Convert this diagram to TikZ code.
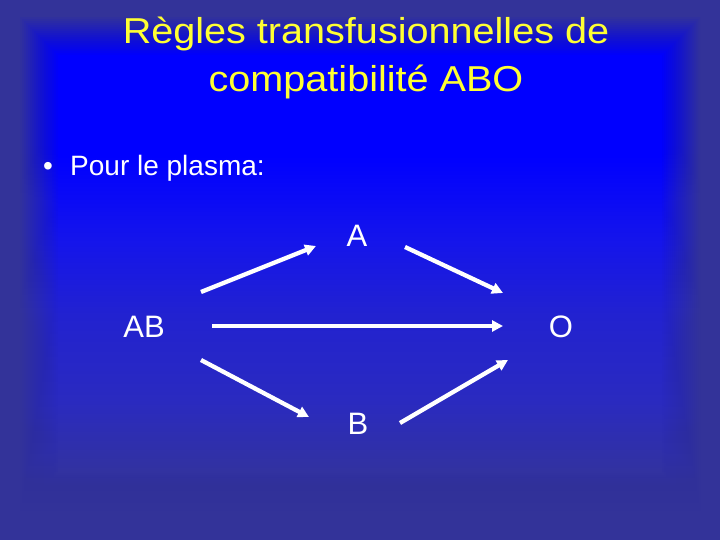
\documentclass[tikz,border=0pt]{standalone}
\usepackage{fontspec}
\usepackage{graphicx}
\setmainfont{Liberation Sans}
\usetikzlibrary{arrows.meta}
\definecolor{outerc}{HTML}{333399}
\definecolor{g1}{HTML}{3232A0}
\definecolor{g2}{HTML}{2A2AC0}
\definecolor{g3}{HTML}{2222D0}
\definecolor{g4}{HTML}{1414EC}
\definecolor{g5}{HTML}{0000FF}
\definecolor{titley}{HTML}{FFFF33}
\pgfdeclareverticalshading{glow}{100bp}{color(0bp)=(g1); color(25bp)=(g1); color(33.7bp)=(g2); color(43.9bp)=(g3); color(53.1bp)=(g4); color(63bp)=(g5); color(75bp)=(g5); color(100bp)=(g5)}
\tikzset{
  titletext/.style={text=titley, font=\fontsize{36}{40}\selectfont, anchor=base, inner sep=0pt},
  bodytext/.style={text=white, font=\fontsize{28}{32}\selectfont, anchor=base, inner sep=0pt},
  labtext/.style={text=white, font=\fontsize{31}{34}\selectfont, anchor=base, inner sep=0pt},
  arr/.style={draw=white, line width=4.3pt, -{Triangle[length=11pt,width=11pt]}}
}
\begin{document}
\begin{tikzpicture}[x=1pt,y=-1pt]
\useasboundingbox (0,0) rectangle (720,540);
\fill[outerc] (0,0) rectangle (720,540);
\foreach \i in {1,...,20}
  \shade[shading=glow, opacity={1/(21-\i)}] ({18+2*\i},{16+2*\i}) rectangle ({702-2*\i},{512-2*\i});
% title
\node[titletext] (t1) at (366,44) {\scalebox{1.1}[1]{Règles transfusionnelles de}};
\node[titletext] (t2) at (366,92) {\scalebox{1.1}[1]{compatibilité ABO}};
% bullet
\node[bodytext] (bul) at (48,176) {•};
\node[bodytext, anchor=base west] (pl) at (70,176) {Pour le plasma:};
% labels
\node[labtext] (A) at (357,247) {A};
\node[labtext] (AB) at (144,337) {AB};
\node[labtext] (O) at (561,337) {O};
\node[labtext] (B) at (358,434) {B};
% arrow endpoints
\coordinate (a1s) at (201,292);
\coordinate (a1e) at (316,246);
\coordinate (a2s) at (405,247);
\coordinate (a2e) at (503,293);
\coordinate (a3s) at (212,326);
\coordinate (a3e) at (503,326);
\coordinate (a4s) at (201,360);
\coordinate (a4e) at (309,417);
\coordinate (a5s) at (400,423);
\coordinate (a5e) at (508,360);
\draw[arr] (a1s) -- (a1e);
\draw[arr] (a2s) -- (a2e);
\draw[arr] (a3s) -- (a3e);
\draw[arr] (a4s) -- (a4e);
\draw[arr] (a5s) -- (a5e);
\end{tikzpicture}
\end{document}
